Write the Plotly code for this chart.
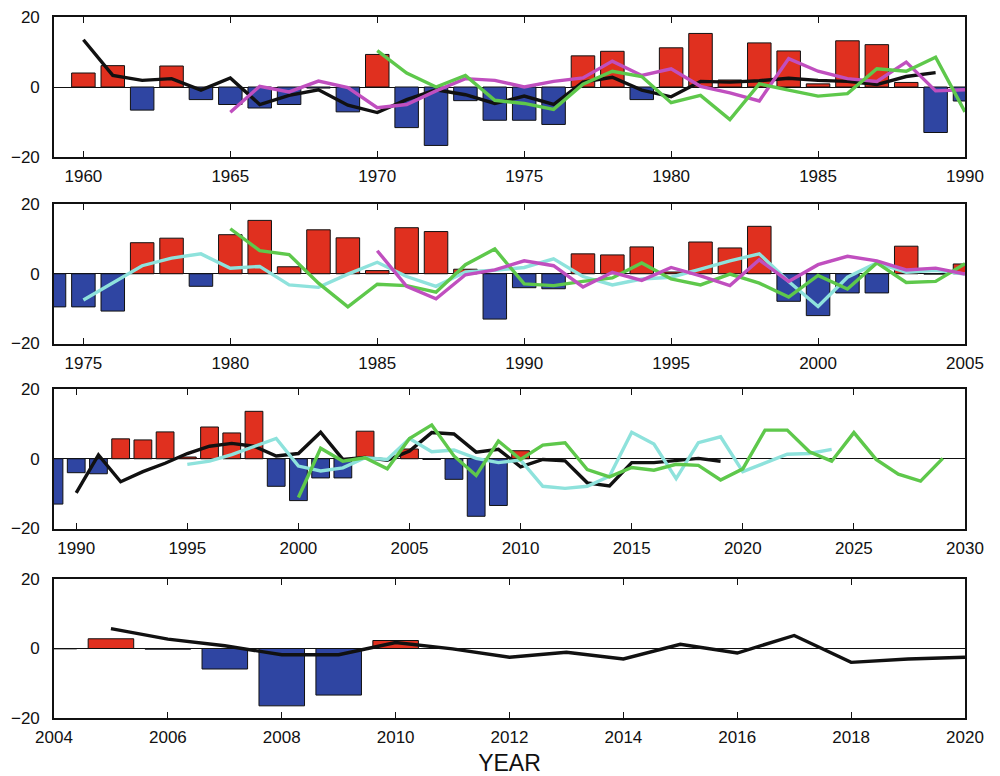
import plotly.graph_objects as go

# ---------------- data ----------------
obs_years = list(range(1960, 2011))
obs_values = [4.0, 6.1, -6.6, 6.0, -3.6, -5.0, -6.0, -5.0, -0.3, -7.1,
              9.3, -11.6, -16.7, -3.9, -9.5, -9.5, -10.7, 8.9, 10.2, -3.6,
              11.2, 15.3, 2.0, 12.6, 10.3, 0.9, 13.2, 12.1, 1.3, -13.0,
              -4.0, -4.3, 5.7, 5.4, 7.7, 0.5, 9.1, 7.4, 13.6, -7.9,
              -12.0, -5.5, -5.5, 7.9, -0.1, 2.8, -0.2, -5.9, -16.5, -13.4,
              2.3]

# panel 1 forecasts
p1_black_years = list(range(1960, 1990))
p1_black = [13.5, 3.3, 1.9, 2.4, -0.9, 2.6, -5.0, -2.4, -0.8, -5.2,
            -7.3, -3.6, -0.8, -2.2, -4.7, -2.6, -5.0, 1.4, 2.8, -0.9,
            -2.8, 1.6, 1.4, 1.8, 2.5, 1.9, 1.6, 0.7, 3.0, 4.1]
p1_magenta_years = list(range(1965, 1991))
p1_magenta = [-7.2, 0.2, -1.4, 1.7, -0.2, -5.9, -5.0, -1.1, 2.4, 1.9,
              0.0, 1.6, 2.6, 7.4, 3.3, 5.2, 0.2, -1.7, -4.0, 8.1,
              4.5, 2.4, 1.6, 7.1, -1.1, -0.8]
p1_green_years = list(range(1970, 1991))
p1_green = [10.4, 4.0, 0.0, 3.3, -3.8, -4.7, -6.4, 0.8, 4.5, 3.0,
            -4.5, -2.4, -9.3, 0.9, -0.9, -2.6, -1.9, 5.2, 4.5, 8.5,
            -7.1]

# panel 2 forecasts
p2_cyan_years = list(range(1975, 2006))
p2_cyan = [-7.5, -2.7, 2.3, 4.5, 5.7, 1.6, 2.1, -3.2, -3.9, -0.1,
           3.3, -0.8, -3.6, 0.5, 1.0, 1.8, 4.3, -0.8, -3.2, -1.5,
           -1.0, 1.3, 3.7, 5.7, -2.2, -9.4, -1.0, 3.1, 0.4, 1.0,
           -0.1]
p2_green_years = list(range(1980, 2006))
p2_green = [12.9, 6.6, 5.5, -2.7, -9.5, -3.0, -3.4, -5.3, 2.6, 7.1,
            -2.9, -3.4, -2.2, -1.2, 3.1, -1.5, -3.2, -0.1, -2.7, -6.7,
            -0.5, -4.4, 3.1, -2.5, -2.2, 2.9]
p2_magenta_years = list(range(1985, 2006))
p2_magenta = [6.6, -3.6, -7.2, -0.3, 1.1, 3.7, 2.3, -3.8, 0.4, -1.9,
              1.8, -0.6, -3.4, 4.0, -2.2, 2.6, 5.0, 3.7, 1.1, 1.6,
              -0.1]

# panel 3 forecasts
p3_black_years = list(range(1990, 2020))
p3_black = [-9.8, 1.1, -6.6, -3.7, -1.3, 1.5, 3.6, 4.4, 3.6, 0.8,
            1.5, 7.6, -0.2, 0.4, -0.4, 2.2, 7.5, 7.1, 1.9, 2.7,
            -2.3, -0.2, -0.6, -6.9, -7.8, -1.1, -1.1, -0.6, 0.1, -0.7]
p3_cyan_years = list(range(1995, 2025))
p3_cyan = [-1.6, -0.7, 1.2, 3.6, 5.8, -2.1, -3.5, -2.6, 0.3, -0.2,
           5.8, 2.0, 2.5, 0.1, -1.1, -0.4, -7.9, -8.5, -7.9, -5.0,
           7.6, 4.2, -5.7, 4.6, 6.3, -3.7, -1.3, 1.3, 1.5, 2.7]
p3_green_years = list(range(2000, 2030))
p3_green = [-11.1, 3.0, -0.7, 0.3, -2.9, 5.8, 9.7, 0.8, -4.8, 5.1,
            -0.2, 3.9, 4.6, -3.1, -5.2, -2.5, -3.3, -1.6, -1.9, -6.1,
            -2.9, 8.2, 8.2, 2.0, -0.7, 7.5, -0.2, -4.4, -6.4, 0.1]

# panel 4 forecast
p4_black_years = list(range(2005, 2021))
p4_black = [5.7, 2.7, 0.8, -1.8, -1.8, 1.7, -0.1, -2.5, -1.1, -3.0,
            1.2, -1.3, 3.75, -4.0, -3.0, -2.5]

# axis settings
x_ranges = [[1959, 1990], [1974, 2005], [1989, 2030], [2004, 2020]]
x_ticks = [list(range(1960, 1991, 5)), list(range(1975, 2006, 5)),
           list(range(1990, 2031, 5)), list(range(2004, 2021, 2))]
y_tickvals = [-20, 0, 20]
y_ticktext = ["\u221220", "0", "20"]
x_title = "YEAR"

# ---------------- style ----------------
RED = "#e0301f"
BLUE = "#2f45a2"
GREEN = "#5ec84b"
MAGENTA = "#c04fbf"
CYAN = "#8ee2dc"
BLACK = "#111111"
FONT = "Liberation Sans, Arial, Helvetica, sans-serif"

# page body has an 8px margin; figure sized so the plot areas land where the
# reference has them
FIG_W, FIG_H = 992, 768
M_L, M_R, M_T, M_B = 46, 35, 9, 58
plot_h = FIG_H - M_T - M_B
bottom_px = FIG_H - M_B  # in figure coords


def dom(top_px, bot_px):
    # reference page coordinates -> paper fractions
    t = top_px - 8
    b = bot_px - 8
    return [(bottom_px - b) / plot_h, (bottom_px - t) / plot_h]


domains = [dom(17, 157), dom(204, 343.5), dom(389, 528.5), dom(579, 718)]
domains = [[max(0.0, d[0]), min(1.0, d[1])] for d in domains]

panels = [
    [(p1_black_years, p1_black, BLACK), (p1_magenta_years, p1_magenta, MAGENTA),
     (p1_green_years, p1_green, GREEN)],
    [(p2_cyan_years, p2_cyan, CYAN), (p2_green_years, p2_green, GREEN),
     (p2_magenta_years, p2_magenta, MAGENTA)],
    [(p3_black_years, p3_black, BLACK), (p3_cyan_years, p3_cyan, CYAN),
     (p3_green_years, p3_green, GREEN)],
    [(p4_black_years, p4_black, BLACK)],
]

bar_colors = [RED if v > 0 else BLUE for v in obs_values]

fig = go.Figure()
layout = dict(
    width=FIG_W, height=FIG_H,
    margin=dict(l=M_L, r=M_R, t=M_T, b=M_B, autoexpand=False),
    plot_bgcolor="white", paper_bgcolor="white",
    showlegend=False, bargap=0.2,
    font=dict(family=FONT, size=17, color="#111111"),
)

for i in range(4):
    n = "" if i == 0 else str(i + 1)
    xa, ya = "x" + n, "y" + n
    fig.add_trace(go.Bar(
        x=obs_years, y=obs_values, width=0.8,
        marker=dict(color=bar_colors, line=dict(color="#111111", width=1)),
        xaxis=xa, yaxis=ya, hoverinfo="skip",
    ))
    for yrs, vals, col in panels[i]:
        fig.add_trace(go.Scatter(
            x=yrs, y=vals, mode="lines",
            line=dict(color=col, width=3.4),
            xaxis=xa, yaxis=ya,
        ))
    layout["xaxis" + n] = dict(
        domain=[0, 1], anchor=ya, range=x_ranges[i],
        tickvals=x_ticks[i], ticks="inside", ticklen=6, tickwidth=1,
        tickcolor="#111111", showgrid=False, zeroline=False,
        showline=True, linecolor="#111111", linewidth=1.6, mirror="allticks",
        tickfont=dict(size=17), ticklabelstandoff=3,
        ticklabeloverflow="allow",
    )
    layout["yaxis" + n] = dict(
        domain=domains[i], anchor=xa, range=[-20, 20],
        tickvals=y_tickvals, ticktext=y_ticktext, ticks="",
        showgrid=False, zeroline=True, zerolinecolor="#111111",
        zerolinewidth=1, showline=True, linecolor="#111111",
        linewidth=1.6, mirror=True, tickfont=dict(size=17),
        ticklabelstandoff=9, ticklabeloverflow="allow",
    )

layout["xaxis4"]["title"] = dict(text=x_title, font=dict(size=23), standoff=10)

fig.update_layout(**layout)
fig.write_html("out.html")
